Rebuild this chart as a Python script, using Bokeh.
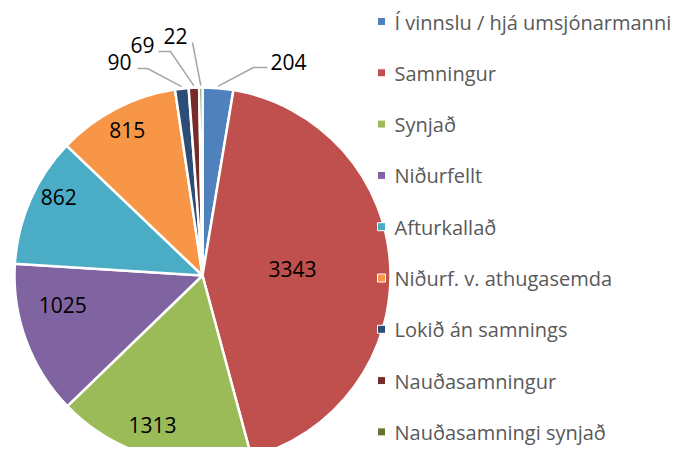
import numpy as np
from bokeh.plotting import figure
from bokeh.models import Range1d, ColumnDataSource
from bokeh.core.properties import value
from bokeh.embed import file_html
from bokeh.resources import INLINE

# ---- data ----
categories = ["Í vinnslu / hjá umsjónarmanni", "Samningur", "Synjað", "Niðurfellt",
              "Afturkallað", "Niðurf. v. athugasemda", "Lokið án samnings",
              "Nauðasamningur", "Nauðasamningi synjað"]
counts = [204, 3343, 1313, 1025, 862, 815, 90, 69, 22]
colors = ["#4F81BD", "#C0504D", "#9BBB59", "#8064A2", "#4BACC6",
          "#F79646", "#2C4D75", "#772C2A", "#5F7530"]

# ---- layout (reference pixel coordinates, y measured downward) ----
W, H = 676, 447
IMG_H = 463
CX, CY, R = 202, 275, 188
FONT = value("Open Sans")

def fy(yy):
    return IMG_H - np.asarray(yy, dtype=float)

p = figure(width=W, height=H, output_backend="svg", toolbar_location=None,
           x_range=Range1d(0, W), y_range=Range1d(IMG_H - H, IMG_H),
           min_border=0)
p.axis.visible = False
p.grid.visible = False
p.outline_line_color = None
p.background_fill_color = "white"
p.border_fill_color = "white"

vals = np.array(counts, dtype=float)
frac = vals / vals.sum()
cum = np.concatenate([[0], np.cumsum(frac)]) * 360.0  # clockwise from top, degrees
start_deg = cum[:-1]
end_deg = cum[1:]
mid_deg = (start_deg + end_deg) / 2

src = ColumnDataSource(dict(
    x=[CX] * len(counts), y=list(fy([CY] * len(counts))),
    start=list(np.deg2rad(90 - start_deg)), end=list(np.deg2rad(90 - end_deg)),
    color=colors))
p.wedge(x="x", y="y", radius=R, start_angle="start", end_angle="end",
        direction="clock", fill_color="color", line_color="white",
        line_width=2.5, source=src)

# inner labels
inner_idx = [1, 2, 3, 4, 5]
inner_rfrac = [0.48, 0.84, 0.76, 0.87, 0.87]
inner_shift = [-1.6, 3.0, 8.1, 4.9, 0.0]
ix, iy, itxt = [], [], []
for k, i in enumerate(inner_idx):
    a = np.deg2rad(mid_deg[i] + inner_shift[k])
    rr = R * inner_rfrac[k]
    ix.append(CX + rr * np.sin(a))
    iy.append(fy(CY - rr * np.cos(a)))
    itxt.append(str(counts[i]))
p.text(x=ix, y=iy, text=itxt, text_font=FONT, text_font_size="21px",
       text_color="black", text_align="center", text_baseline="middle")

# outer labels with leader lines
outer_idx = [0, 6, 7, 8]
outer_text_pos = [(288, 61), (119, 61), (142, 44), (175, 35)]
outer_elbow = [(253, 67), (147, 68), (170, 51), (192, 42)]
outer_end = [(267, 67), (137, 68), (158, 51), (192, 42)]
ox, oy, otxt = [], [], []
lx, ly = [], []
for k, i in enumerate(outer_idx):
    a = np.deg2rad(mid_deg[i])
    sx = CX + (R + 2) * np.sin(a)
    sy = CY - (R + 2) * np.cos(a)
    lx.append([sx, outer_elbow[k][0], outer_end[k][0]])
    ly.append(list(fy([sy, outer_elbow[k][1], outer_end[k][1]])))
    ox.append(outer_text_pos[k][0])
    oy.append(fy(outer_text_pos[k][1]))
    otxt.append(str(counts[i]))
p.multi_line(xs=lx, ys=ly, line_color="#A6A6A6", line_width=1.5)
p.text(x=ox, y=oy, text=otxt, text_font=FONT, text_font_size="21px",
       text_color="black", text_align="center", text_baseline="middle")

# legend
LEG_X, LEG_Y0, LEG_DY = 381, 21, 51.3
leg_y = [fy(LEG_Y0 + j * LEG_DY) for j in range(len(categories))]
p.scatter(x=[LEG_X] * len(categories), y=leg_y, marker="square", size=8,
          fill_color=colors, line_color="white", line_width=1)
p.text(x=[LEG_X + 13] * len(categories), y=[v - 0.5 for v in leg_y], text=categories,
       text_font=FONT, text_font_size="20px", text_color="#595959",
       text_align="left", text_baseline="middle")

open("out.html", "w").write(file_html(p, INLINE))
